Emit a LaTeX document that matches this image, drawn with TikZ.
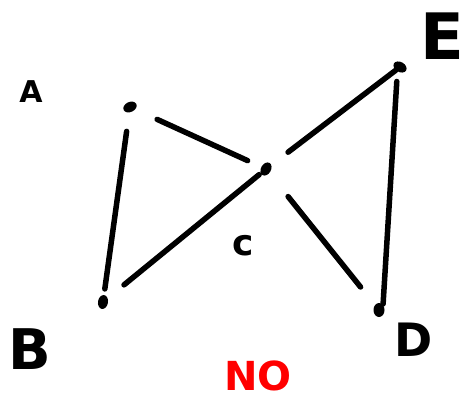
\documentclass[tikz,border=0pt]{standalone}
\usepackage{fontspec}
\setmainfont{DejaVu Sans}
\usetikzlibrary{shapes.geometric}
\begin{document}
\begin{tikzpicture}[x=1pt,y=-1pt,
  vdot/.style={ellipse,fill=black,inner sep=0pt,minimum width=14pt,minimum height=10pt},
  edge/.style={line width=5.5pt,line cap=round},
  lbl/.style={inner sep=0pt,font=\bfseries}]
\useasboundingbox (0,0) rectangle (471,400);
% vertices
\node[vdot,rotate=25] (A) at (130,107) {};
\node[vdot,rotate=-30] (E) at (400,67) {};
\node[vdot,rotate=60] (C) at (266,169) {};
\node[vdot,rotate=80] (B) at (103,302) {};
\node[vdot,minimum width=11pt,minimum height=14pt] (D) at (379,310) {};
% edges
\draw[edge,shorten <=19pt,shorten >=6pt] (A) -- (B);
\draw[edge,shorten <=24pt,shorten >=15pt] (A) -- (C);
\draw[edge,shorten <=21pt,shorten >=0pt] (C) -- (E);
\draw[edge,shorten <=2pt,shorten >=21pt] (C) -- (B);
\draw[edge,shorten <=30pt,shorten >=23pt] (C) -- (D);
\draw[edge,shorten <=10pt,shorten >=1pt] (E.south) -- (D.north east);
% labels
\node[lbl,font=\bfseries\fontsize{30}{30}\selectfont] (lA) at (31,92) {A};
\node[lbl,font=\bfseries\fontsize{56}{56}\selectfont] (lB) at (30,349) {B};
\node[lbl,font=\bfseries\fontsize{36}{36}\selectfont] (lC) at (243,246) {c};
\node[lbl,font=\bfseries\fontsize{46}{46}\selectfont] (lD) at (414,340) {D};
\node[lbl,font=\bfseries\fontsize{64}{64}\selectfont] (lE) at (442,36) {E};
\node[lbl,text=red,font=\bfseries\fontsize{40}{40}\selectfont] (lNO) at (258,376) {NO};
\end{tikzpicture}
\end{document}
